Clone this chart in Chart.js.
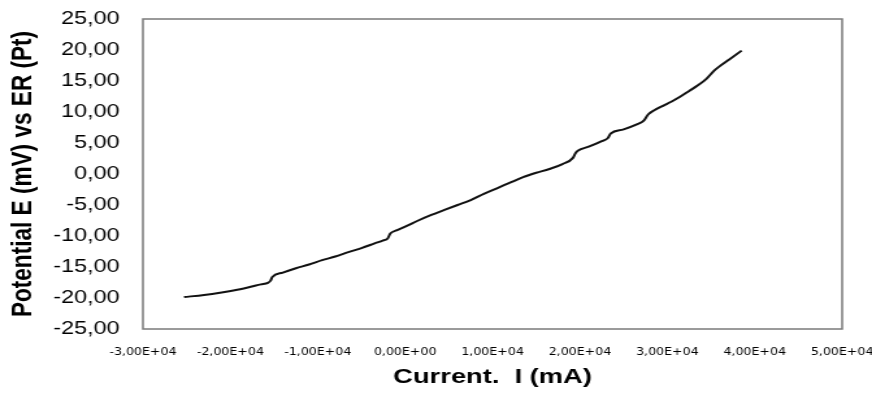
<!DOCTYPE html>
<html>
<head>
<meta charset="utf-8">
<script src="https://cdn.jsdelivr.net/npm/chart.js@4.4.1/dist/chart.umd.min.js"></script>
<style>
    html, body { margin: 0; padding: 0; background: #fff; overflow: hidden; }
    /* the reference is a stretched Excel picture, so the canvas is stretched the same way */
    #wrap { width: 671px; height: 398px; transform: scaleX(1.2996); transform-origin: 0 0; }
</style>
</head>
<body>
<div id="wrap"><canvas id="potentialChart"></canvas></div>
<script>
// Current I (mA)
const currentValues = [
    -25300, -23000, -21000, -19500, -18000, -16500, -15700, -15400, -15200, -14000,
    -12500, -11000, -9500, -8000, -6500, -5000, -3500, -2500, -2000, -1700,
    -1000, 0, 1500, 3000, 4500, 6000, 7500, 9000, 10500, 12000,
    13500, 15000, 16500, 18000, 19200, 19500, 19800, 21000, 22500, 23200,
    23500, 25000, 26500, 27300, 27800, 28400, 29500, 30500, 31500, 32500,
    33500, 34500, 35300, 36000, 37000, 38500
];

// Potential E (mV) vs ER (Pt)
const potentialValues = [
    -19.85, -19.5, -19.1, -18.75, -18.3, -17.8, -17.55, -17.2, -16.6, -15.9,
    -15.2, -14.6, -13.9, -13.3, -12.6, -11.95, -11.2, -10.7, -10.4, -9.6,
    -9.1, -8.5, -7.5, -6.6, -5.8, -5.0, -4.2, -3.2, -2.3, -1.4,
    -0.5, 0.2, 0.8, 1.6, 2.6, 3.4, 3.8, 4.4, 5.3, 5.8,
    6.5, 7.2, 8.0, 8.6, 9.6, 10.2, 11.0, 11.7, 12.5, 13.4,
    14.3, 15.4, 16.6, 17.4, 18.4, 19.9
];

const xTickValues = [-30000, -20000, -10000, 0, 10000, 20000, 30000, 40000, 50000];
const yTickValues = [-25, -20, -15, -10, -5, 0, 5, 10, 15, 20, 25];

const points = currentValues.map((c, i) => ({ x: c, y: potentialValues[i] }));

function commaFixed(v) {
    if (Math.abs(v) < 1e-9) v = 0;
    return v.toFixed(2).replace('.', ',');
}

function excelSci(v) {
    if (v === 0) return '0,00E+00';
    const exp = Math.floor(Math.log10(Math.abs(v)));
    const mant = v / Math.pow(10, exp);
    const e = Math.abs(exp) < 10 ? '0' + Math.abs(exp) : '' + Math.abs(exp);
    return commaFixed(mant) + 'E' + (exp < 0 ? '-' : '+') + e;
}

// gray box round the plot area
const plotBox = {
    id: 'plotBox',
    afterDraw(chart) {
        const { ctx, chartArea: a } = chart;
        ctx.save();
        ctx.strokeStyle = '#7a7a7a';
        ctx.lineWidth = 1.5;
        ctx.strokeRect(a.left, a.top, a.right - a.left, a.bottom - a.top);
        ctx.restore();
    }
};

const ctx = document.getElementById('potentialChart').getContext('2d');

new Chart(ctx, {
    type: 'scatter',
    data: {
        datasets: [{
            label: 'E vs I',
            data: points,
            showLine: true,
            borderColor: '#111111',
            borderWidth: 2,
            pointRadius: 0,
            cubicInterpolationMode: 'monotone',
            fill: false
        }]
    },
    options: {
        responsive: true,
        maintainAspectRatio: false,
        animation: false,
        layout: { padding: { top: 19, right: 0, bottom: 0, left: 0 } },
        plugins: {
            legend: { display: false },
            tooltip: { enabled: false }
        },
        scales: {
            x: {
                type: 'linear',
                min: -30000,
                max: 50000,
                afterBuildTicks: (scale) => { scale.ticks = xTickValues.map(v => ({ value: v })); },
                afterFit: (scale) => {
                    scale.height = 69;
                    scale.paddingRight = 23;
                },
                grid: { display: false, drawTicks: false },
                border: { display: false },
                ticks: {
                    padding: 18,
                    maxRotation: 0,
                    autoSkip: false,
                    color: '#000',
                    font: { family: 'DejaVu Sans', size: 9.7 },
                    callback: (v) => excelSci(v)
                },
                title: {
                    display: true,
                    text: 'Current.  I (mA)',
                    color: '#000',
                    font: { family: 'Liberation Sans', size: 21, weight: 'bold' },
                    padding: { top: 0, bottom: 8 }
                }
            },
            y: {
                min: -25,
                max: 25,
                afterBuildTicks: (scale) => { scale.ticks = yTickValues.map(v => ({ value: v })); },
                afterFit: (scale) => {
                    scale.width = 110;
                    scale.paddingTop = 0;
                    scale.paddingBottom = 0;
                },
                grid: { display: false, drawTicks: false },
                border: { display: false },
                ticks: {
                    padding: 18,
                    autoSkip: false,
                    color: '#000',
                    font: { family: 'Liberation Sans', size: 18 },
                    callback: (v) => commaFixed(v)
                },
                title: {
                    display: true,
                    text: 'Potential E (mV) vs ER (Pt)',
                    color: '#000',
                    font: { family: 'Liberation Sans', size: 22.6, weight: 'bold' },
                    padding: { top: 4, bottom: 0 }
                }
            }
        }
    },
    plugins: [plotBox]
});
</script>
</body>
</html>
